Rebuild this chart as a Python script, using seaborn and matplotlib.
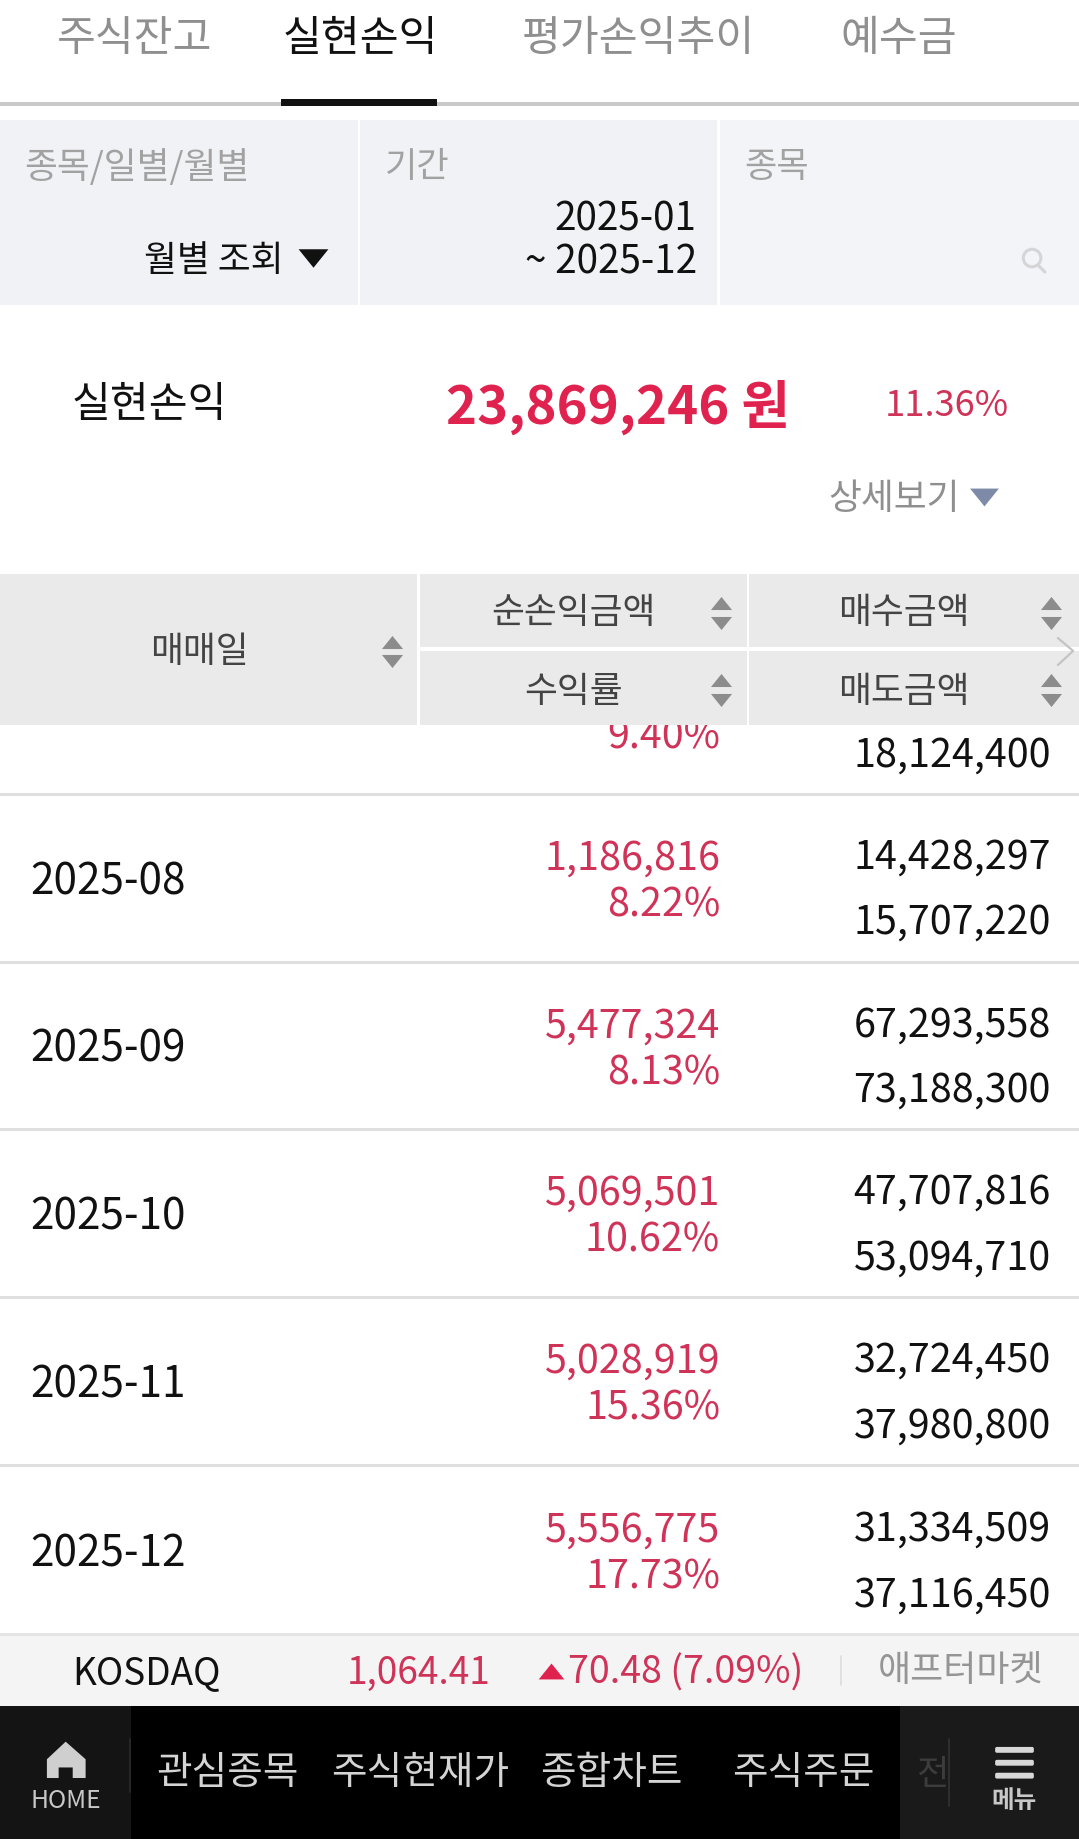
import matplotlib
matplotlib.use("Agg")
import matplotlib.pyplot as plt
from matplotlib.patches import Rectangle, Polygon, Circle, FancyBboxPatch
import pandas as pd
import seaborn as sns

# table values
months = ["", "2025-08", "2025-09", "2025-10", "2025-11", "2025-12"]
profits = ["", "1,186,816", "5,477,324", "5,069,501", "5,028,919", "5,556,775"]
rates = ["9.40%", "8.22%", "8.13%", "10.62%", "15.36%", "17.73%"]
buys = ["", "14,428,297", "67,293,558", "47,707,816", "32,724,450", "31,334,509"]
sells = ["18,124,400", "15,707,220", "73,188,300", "53,094,710", "37,980,800", "37,116,450"]
row_centers = [606, 749, 892, 1035, 1178, 1322]
row_lines = [677, 820, 963, 1106, 1249]

tabs = ["주식잔고", "실현손익", "평가손익추이", "예수금"]
tab_x = [115, 307, 544, 766]
nav_labels = ["관심종목", "주식현재가", "종합차트", "주식주문"]
nav_x = [194, 358, 521, 685]

RED = "#e0234e"
RED2 = "#cf3357"
GREY = "#8f8f8f"

sns.set_theme(style="white")
plt.rcParams["font.family"] = ["Noto Sans CJK KR", "DejaVu Sans"]

W, H = 920, 1568
fig = plt.figure(figsize=(10.79, 18.39), dpi=100)
ax = fig.add_axes([0, 0, 1, 1])
ax.set_xlim(0, W)
ax.set_ylim(H, 0)
ax.axis("off")


def txt(x, y, s, size, color="#111111", ha="center", weight="normal", z=5):
    # size is the em in screen units, converted to points here
    ax.text(x, y + size * 0.09, s, fontsize=size * 0.844, color=color, ha=ha, va="center",
            fontweight=weight, zorder=z)


def box(x0, y0, x1, y1, color, z=1):
    ax.add_patch(Rectangle((x0, y0), x1 - x0, y1 - y0, fc=color, ec="none", zorder=z))


# tabs
for i, (name, x) in enumerate(zip(tabs, tab_x)):
    txt(x, 30, name, 36, "#111111" if i == 1 else GREY, weight="medium" if i == 1 else "normal")
box(0, 87, W, 90, "#c9c9c9")
box(240, 84, 373, 90, "#111111", z=2)

# filter panels
box(0, 102, 305, 260, "#f1f2f6")
box(307, 102, 611, 260, "#f1f2f6")
box(614, 102, W, 260, "#f3f4f7")
txt(21, 140, "종목/일별/월별", 30.5, "#a2a2a2", ha="left")
txt(328, 140, "기간", 30, "#a2a2a2", ha="left")
txt(635, 140, "종목", 30, "#a2a2a2", ha="left")
txt(242, 220, "월별 조회", 30.5, ha="right")
txt(594, 184, "2025-01", 33, ha="right")
txt(594, 221, "~ 2025-12", 33, ha="right")
ax.add_patch(Circle((880, 220), 7.5, fc="none", ec="#d5d5d8", lw=2.2, zorder=3))
ax.plot([885, 891], [226, 232], color="#d5d5d8", lw=2.2, zorder=3)

# summary
txt(127, 342, "실현손익", 36, weight="medium", ha="center")
txt(380, 343, "23,869,246 원", 45, RED, ha="left", weight="bold")
txt(860, 343, "11.36%", 31, RED2, ha="right")
txt(818, 423, "상세보기", 30.5, "#8f8f8f", ha="right")

# rows
for m, p, r, b, s, c in zip(months, profits, rates, buys, sells, row_centers):
    txt(26, c, m, 36, ha="left")
    txt(614, c - 20, p, 33.7, RED2, ha="right")
    txt(614, c + 20, r, 33.7, RED2, ha="right")
    txt(896, c - 21, b, 33.7, ha="right")
    txt(896, c + 35, s, 33.7, ha="right")
for y in row_lines:
    ax.axhline(y, color="#dfdfdf", lw=2.2, zorder=2)

# header covers the clipped first row
box(0, 489, 355.5, 618, "#eaeaea", z=6)
box(358, 489, 636.5, 552, "#eaeaea", z=6)
box(358, 555, 636.5, 618, "#eaeaea", z=6)
box(639, 489, W, 552, "#eaeaea", z=6)
box(639, 555, W, 618, "#eaeaea", z=6)
txt(170, 553, "매매일", 30.5, "#444444", z=7)
txt(489, 520, "순손익금액", 30.5, "#444444", z=7)
txt(489, 587, "수익률", 30.5, "#444444", z=7)
txt(771, 520, "매수금액", 30.5, "#444444", z=7)
txt(771, 587, "매도금액", 30.5, "#444444", z=7)
ax.plot([902, 915, 902], [544, 555, 567], color="#c4c4c4", lw=1.6, zorder=8)

# triangles go through seaborn
arrows = pd.DataFrame({
    "x": [334, 334, 615, 615, 615, 615, 896, 896, 896, 896, 267, 839, 470],
    "y": [547, 564, 514, 531, 580, 597, 514, 531, 580, 597, 220, 424, 1425],
    "kind": ["up", "down", "up", "down", "up", "down", "up", "down", "up", "down",
             "black", "blue", "red"],
})
UP = [(-1, -0.62), (1, -0.62), (0, 0.62)]
DOWN = [(-1, 0.62), (1, 0.62), (0, -0.62)]
styles = {"up": (UP, "#8c8c8c", 230), "down": (DOWN, "#8c8c8c", 230),
          "black": (DOWN, "#111111", 460), "blue": (DOWN, "#7d8aa8", 430), "red": (UP, RED, 340)}
for kind, part in arrows.groupby("kind"):
    mk, col, sz = styles[kind]
    sns.scatterplot(data=part, x="x", y="y", marker=mk, color=col, s=sz, linewidth=0, ax=ax,
                    zorder=8, legend=False)
ax.set_xlim(0, W)
ax.set_ylim(H, 0)
ax.axis("off")

# ticker strip
box(0, 1392, W, 1395, "#e4e4e4", z=3)
box(0, 1395, W, 1455, "#f4f4f5", z=3)
txt(62, 1424, "KOSDAQ", 31.5, ha="left", weight="medium", z=6)
txt(418, 1424, "1,064.41", 31.5, RED2, ha="right", weight="medium", z=6)
txt(685, 1424, "70.48 (7.09%)", 32, RED2, ha="right", weight="medium", z=6)
ax.plot([717, 717], [1412, 1437], color="#dddddd", lw=1.2, zorder=6)
txt(890, 1422, "애프터마켓", 30.7, "#959595", ha="right", z=6)

# bottom nav
box(0, 1455, W, H, "#000000", z=3)
box(0, 1455, 112, H, "#141414", z=4)
box(767, 1455, W, H, "#1a1a1a", z=4)
ax.plot([111, 111], [1483, 1528], color="#2c2c2c", lw=1.2, zorder=5)
ax.plot([809, 809], [1483, 1540], color="#333333", lw=1.2, zorder=5)
for name, x in zip(nav_labels, nav_x):
    txt(x, 1509, name, 33, "#d4d4d4", weight="medium", z=6)
txt(795, 1511, "전", 30, "#3c3c3c", z=6)
ax.add_patch(Polygon([(56, 1485), (40, 1500), (40, 1516), (50, 1516), (50, 1507), (62, 1507),
                      (62, 1516), (73, 1516), (73, 1500)], fc="#cfcfcf", ec="none", zorder=6))
txt(56, 1534, "HOME", 21, "#c8c8c8", weight="medium", z=6)
for y in [1492, 1503, 1514]:
    ax.add_patch(FancyBboxPatch((850, y - 1), 30, 2, boxstyle="round,pad=1.5", fc="#d8d8d8",
                                ec="none", zorder=6))
txt(865, 1534, "메뉴", 21, "#c8c8c8", weight="bold", z=6)

fig.savefig("out.png", dpi=100)
